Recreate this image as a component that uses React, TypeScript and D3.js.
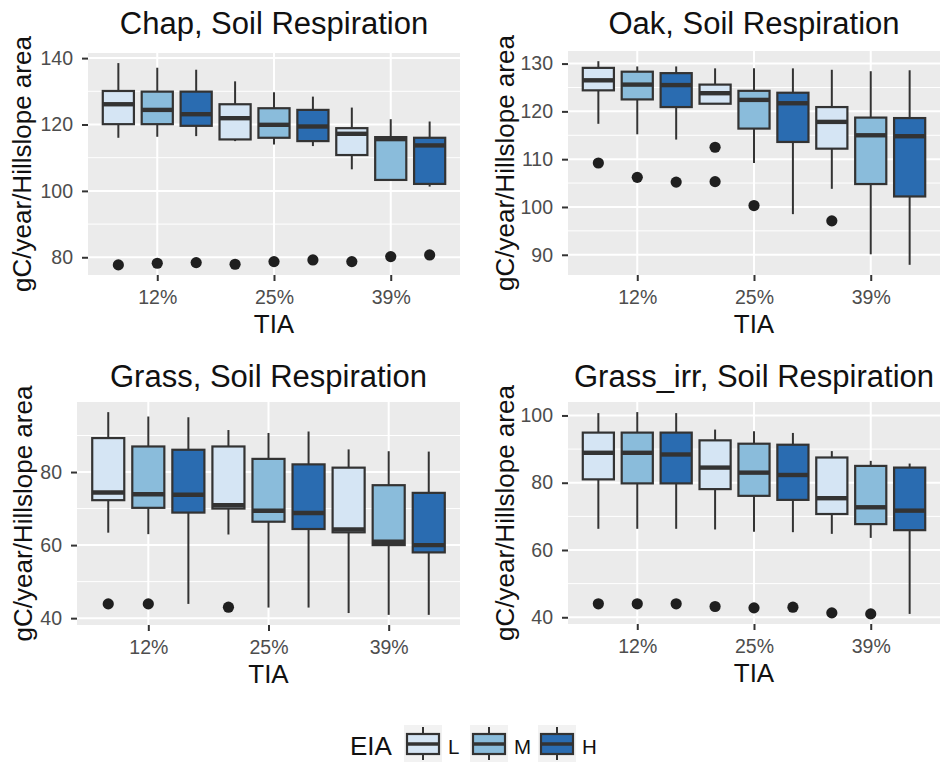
import React, { useEffect, useRef } from 'react';
import * as d3 from 'd3';

const tiaLabels = ['12%', '25%', '39%'];
const eiaLevels = ['L', 'M', 'H'];
const eiaColors = ['#d5e5f4', '#8abcdb', '#2a6cb1'];
const facetTitles = [
  'Chap, Soil Respiration',
  'Oak, Soil Respiration',
  'Grass, Soil Respiration',
  'Grass_irr, Soil Respiration',
];

// each row: [lower whisker, Q1, median, Q3, upper whisker], order TIA x EIA
const chapStats = [
  [116.0, 120.1, 126.1, 130.1, 138.5],
  [116.3, 120.1, 124.4, 129.9, 137.1],
  [116.5, 119.6, 123.1, 129.9, 136.5],
  [115.0, 115.5, 121.9, 126.1, 133.0],
  [114.0, 116.0, 119.9, 124.9, 129.7],
  [113.5, 115.0, 119.4, 124.4, 128.4],
  [106.5, 110.8, 117.2, 118.9, 125.1],
  [103.1, 103.3, 115.6, 116.2, 121.6],
  [101.3, 102.1, 113.7, 116.0, 120.9],
];
const chapOutliers = [[77.7], [78.2], [78.4], [77.9], [78.7], [79.2], [78.7], [80.2], [80.7]];
const chapBreaks = [80, 100, 120, 140];

const oakStats = [
  [117.4, 124.4, 126.5, 129.1, 130.5],
  [115.2, 122.5, 125.6, 128.3, 129.4],
  [114.1, 120.9, 125.5, 128.0, 129.4],
  [121.6, 121.6, 123.8, 125.6, 129.0],
  [109.2, 116.4, 122.4, 124.3, 129.0],
  [98.5, 113.6, 121.7, 123.9, 129.0],
  [103.8, 112.2, 117.8, 120.9, 128.7],
  [90.1, 104.8, 115.0, 118.7, 128.4],
  [87.9, 102.2, 114.8, 118.6, 128.6],
];
const oakOutliers = [[109.2], [106.2], [105.2], [112.5, 105.3], [100.3], [], [97.1], [], []];
const oakBreaks = [90, 100, 110, 120, 130];

const grassStats = [
  [63.4, 72.3, 74.4, 89.3, 96.4],
  [63.0, 70.2, 73.9, 87.0, 95.2],
  [43.9, 68.9, 73.8, 86.1, 95.0],
  [62.9, 70.0, 70.9, 87.0, 91.5],
  [42.9, 66.4, 69.4, 83.6, 90.7],
  [42.9, 64.4, 68.8, 82.1, 91.1],
  [41.4, 63.5, 64.3, 81.2, 86.2],
  [40.9, 60.0, 60.9, 76.4, 85.7],
  [40.9, 58.0, 60.0, 74.3, 85.6],
];
const grassOutliers = [[43.9], [43.9], [], [43.0], [], [], [], [], []];
const grassBreaks = [40, 60, 80];

const grassIrrStats = [
  [66.3, 81.0, 88.9, 94.9, 100.7],
  [66.3, 79.8, 88.9, 94.9, 101.0],
  [66.3, 79.8, 88.4, 94.9, 100.7],
  [66.1, 78.1, 84.5, 92.6, 95.8],
  [65.4, 76.1, 83.0, 91.6, 95.3],
  [65.3, 74.9, 82.3, 91.3, 94.8],
  [64.8, 70.7, 75.4, 87.5, 89.4],
  [63.6, 67.7, 72.7, 85.0, 86.5],
  [41.0, 65.9, 71.7, 84.5, 85.7],
];
const grassIrrOutliers = [[44.0], [44.0], [44.0], [43.2], [42.8], [43.0], [41.3], [41.0], []];
const grassIrrBreaks = [40, 60, 80, 100];

const facets = [
  { title: facetTitles[0], stats: chapStats, outliers: chapOutliers, breaks: chapBreaks },
  { title: facetTitles[1], stats: oakStats, outliers: oakOutliers, breaks: oakBreaks },
  { title: facetTitles[2], stats: grassStats, outliers: grassOutliers, breaks: grassBreaks },
  { title: facetTitles[3], stats: grassIrrStats, outliers: grassIrrOutliers, breaks: grassIrrBreaks },
];

const panels = [
  { left: 88, right: 460, top: 53, bottom: 275, titleY: 34, yTitleX: 31 },
  { left: 568, right: 940, top: 51, bottom: 275, titleY: 34, yTitleX: 514 },
  { left: 77, right: 460, top: 402, bottom: 625, titleY: 387, yTitleX: 32 },
  { left: 568, right: 940, top: 402, bottom: 624, titleY: 387, yTitleX: 514 },
];

const FONT = '"Liberation Sans", Arial, Helvetica, sans-serif';
const INK = '#333333';

const App = () => {
  const svgRef = useRef(null);

  useEffect(() => {
    const svg = d3.select(svgRef.current);
    svg.selectAll('*').remove();

    facets.forEach((f, fi) => {
      const p = panels[fi];
      const g = svg.append('g');

      const vals = f.stats.flat().concat(f.outliers.flat());
      const lo = d3.min(vals);
      const hi = d3.max(vals);
      const pad = (hi - lo) * 0.05;

      const y = d3.scaleLinear().domain([lo - pad, hi + pad]).range([p.bottom, p.top]);
      const x = d3.scaleLinear().domain([0.22, 9.78]).range([p.left, p.right]);
      const tickPos = tiaLabels.map((_, i) => i * 3 + 2);

      g.append('rect')
        .attr('x', p.left).attr('y', p.top)
        .attr('width', p.right - p.left).attr('height', p.bottom - p.top)
        .attr('fill', '#ebebeb');

      // minor grid
      const step = f.breaks[1] - f.breaks[0];
      const minors = [f.breaks[0] - step / 2]
        .concat(f.breaks.map(b => b + step / 2))
        .filter(v => v > y.domain()[0] && v < y.domain()[1]);
      g.selectAll('.minor').data(minors).enter().append('line')
        .attr('x1', p.left).attr('x2', p.right)
        .attr('y1', d => y(d)).attr('y2', d => y(d))
        .attr('stroke', '#fff').attr('stroke-width', 1);

      g.selectAll('.hmajor').data(f.breaks).enter().append('line')
        .attr('x1', p.left).attr('x2', p.right)
        .attr('y1', d => y(d)).attr('y2', d => y(d))
        .attr('stroke', '#fff').attr('stroke-width', 2);

      g.selectAll('.vmajor').data(tickPos).enter().append('line')
        .attr('x1', d => x(d)).attr('x2', d => x(d))
        .attr('y1', p.top).attr('y2', p.bottom)
        .attr('stroke', '#fff').attr('stroke-width', 2);

      // boxes
      const bw = x(1.8) - x(1);
      f.stats.forEach((s, i) => {
        const cx = x(i + 1);
        const [wlo, q1, med, q3, whi] = s;
        g.append('line')
          .attr('x1', cx).attr('x2', cx).attr('y1', y(whi)).attr('y2', y(q3))
          .attr('stroke', INK).attr('stroke-width', 2);
        g.append('line')
          .attr('x1', cx).attr('x2', cx).attr('y1', y(q1)).attr('y2', y(wlo))
          .attr('stroke', INK).attr('stroke-width', 2);
        g.append('rect')
          .attr('x', cx - bw / 2).attr('y', y(q3))
          .attr('width', bw).attr('height', Math.max(0.5, y(q1) - y(q3)))
          .attr('fill', eiaColors[i % 3])
          .attr('stroke', INK).attr('stroke-width', 2.2);
        g.append('line')
          .attr('x1', cx - bw / 2).attr('x2', cx + bw / 2)
          .attr('y1', y(med)).attr('y2', y(med))
          .attr('stroke', INK).attr('stroke-width', 4.4);
        f.outliers[i].forEach(o => {
          g.append('circle')
            .attr('cx', cx).attr('cy', y(o)).attr('r', 5.6)
            .attr('fill', '#1f1f1f');
        });
      });

      // axes
      const yAxis = g.append('g')
        .attr('transform', `translate(${p.left},0)`)
        .call(d3.axisLeft(y).tickValues(f.breaks).tickSize(6).tickPadding(9).tickFormat(d3.format('d')));
      const xAxis = g.append('g')
        .attr('transform', `translate(0,${p.bottom})`)
        .call(d3.axisBottom(x).tickValues(tickPos).tickSize(6).tickPadding(9)
          .tickFormat((d, i) => tiaLabels[i]));
      [yAxis, xAxis].forEach(a => {
        a.select('.domain').remove();
        a.selectAll('line').attr('stroke', INK).attr('stroke-width', 2);
        a.selectAll('text').attr('font-family', FONT).attr('font-size', 19.5).attr('fill', '#4d4d4d');
      });

      g.append('text')
        .attr('x', (p.left + p.right) / 2).attr('y', p.titleY)
        .attr('text-anchor', 'middle')
        .attr('font-family', FONT).attr('font-size', 31).attr('fill', '#111')
        .text(f.title);

      g.append('text')
        .attr('x', (p.left + p.right) / 2).attr('y', p.bottom + 58)
        .attr('text-anchor', 'middle')
        .attr('font-family', FONT).attr('font-size', 26).attr('fill', '#111')
        .text('TIA');

      g.append('text')
        .attr('transform', `translate(${p.yTitleX},${(p.top + p.bottom) / 2}) rotate(-90)`)
        .attr('text-anchor', 'middle')
        .attr('font-family', FONT).attr('font-size', 26).attr('fill', '#111')
        .text('gC/year/Hillslope area');
    });

    // legend
    const lg = svg.append('g');
    lg.append('text')
      .attr('x', 350).attr('y', 755)
      .attr('font-family', FONT).attr('font-size', 26).attr('fill', '#111')
      .text('EIA');
    const keyX = [404, 470, 538];
    eiaLevels.forEach((lvl, i) => {
      const kx = keyX[i];
      const ky = 725;
      const kw = 38;
      const kh = 37;
      lg.append('rect')
        .attr('x', kx).attr('y', ky).attr('width', kw).attr('height', kh)
        .attr('fill', '#f2f2f2');
      lg.append('line')
        .attr('x1', kx + kw / 2).attr('x2', kx + kw / 2)
        .attr('y1', ky + 2).attr('y2', ky + kh - 2)
        .attr('stroke', INK).attr('stroke-width', 2);
      lg.append('rect')
        .attr('x', kx + 3).attr('y', ky + 9).attr('width', kw - 6).attr('height', 20)
        .attr('fill', eiaColors[i]).attr('stroke', INK).attr('stroke-width', 2.2);
      lg.append('line')
        .attr('x1', kx + 3).attr('x2', kx + kw - 3)
        .attr('y1', ky + 19).attr('y2', ky + 19)
        .attr('stroke', INK).attr('stroke-width', 3.5);
      lg.append('text')
        .attr('x', kx + kw + 6).attr('y', 754)
        .attr('font-family', FONT).attr('font-size', 20.5).attr('fill', '#111')
        .text(lvl);
    });
  }, []);

  return (
    <svg
      ref={svgRef}
      width={943}
      height={763}
      style={{ position: 'absolute', left: 0, top: 0, background: '#fff' }}
    />
  );
};

export default App;
